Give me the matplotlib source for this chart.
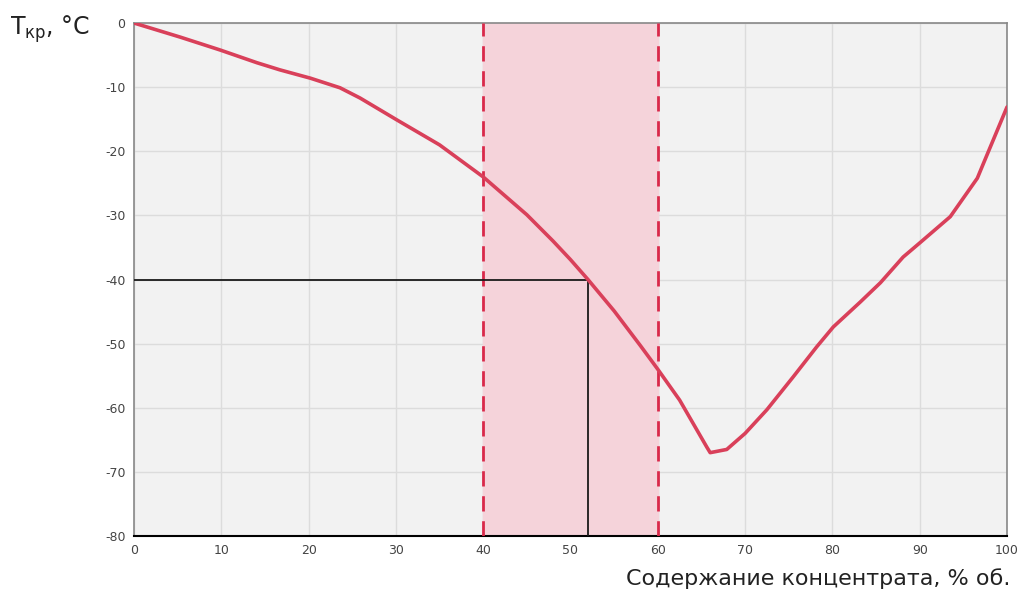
import matplotlib.pyplot as plt

plt.rcParams['axes.unicode_minus'] = False

# Кривая температуры кристаллизации
konc = [0, 5.3, 9.85, 14.1, 16.7, 20.2, 23.6, 25.9, 30.1, 35, 40, 45, 48, 50, 52,
        55, 58, 60, 62.5, 65.6, 66, 67.9, 70, 72.5, 75.5, 78.2, 80.1, 83.2,
        85.5, 88.1, 90, 93.5, 96.6, 97.3, 100]
t_kr = [0, -2.2, -4.2, -6.2, -7.3, -8.6, -10.1, -11.7, -15.1, -19.0, -24.0, -29.9, -34.0,
        -36.9, -40, -44.9, -50.3, -54.0, -58.8, -66.1, -67, -66.5, -64.0, -60.3, -55.2,
        -50.5, -47.4, -43.5, -40.5, -36.5, -34.3, -30.2, -24.2, -21.9, -13.1]

zona = [40, 60]       # рекомендуемый диапазон
tochka = [52, -40]    # отмеченная точка

xticks = list(range(0, 101, 10))
yticks = list(range(-80, 1, 10))

fig = plt.figure(figsize=(10.21, 5.9), dpi=100)
ax = fig.add_axes([0.1312, 0.0915, 0.8551, 0.8695])
ax.set_facecolor('#f2f2f2')

ax.axvspan(zona[0], zona[1], color='#f5d3da', zorder=1)
for xv in zona:
    ax.axvline(xv, color='#d9294a', lw=2, ls=(0, (5.5, 3.5)), zorder=3)

ax.plot([0, tochka[0], tochka[0]], [tochka[1], tochka[1], -80], color='#1a1a1a', lw=1.3, zorder=4)
ax.plot(konc, t_kr, color='#d9405a', lw=2.6, zorder=5, solid_capstyle='round',
        solid_joinstyle='round')

ax.set_xlim(0, 100)
ax.set_ylim(-80, 0)
ax.set_xticks(xticks)
ax.set_yticks(yticks)
ax.grid(True, color='#dcdcdc', lw=1, zorder=0)
ax.set_axisbelow(True)
ax.tick_params(length=0, labelsize=9, colors='#444444', pad=6)

for s in ['left', 'top', 'right']:
    ax.spines[s].set_color('#888888')
    ax.spines[s].set_linewidth(1.2)
ax.spines['bottom'].set_color('#000000')
ax.spines['bottom'].set_linewidth(1.5)

fig.text(0.01, 0.95, r'T$_{\mathregular{кр}}$, °C', fontsize=17, color='#222222', va='center', ha='left')
fig.text(0.99, 0.008, 'Содержание концентрата, % об.', fontsize=16, color='#222222',
         ha='right', va='baseline')

fig.savefig('out.png', dpi=100)
